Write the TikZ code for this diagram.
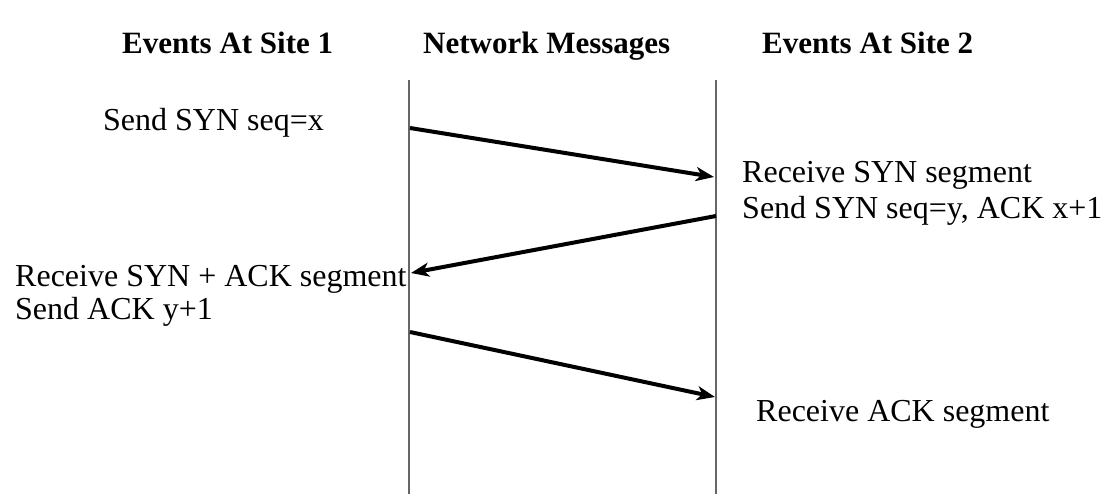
\documentclass[tikz,border=0pt]{standalone}
\usepackage{fontspec}
\setmainfont{Liberation Serif}
\usetikzlibrary{arrows.meta}
\tikzset{
  txt/.style={anchor=base west, inner sep=0pt, font=\fontsize{32}{35}\selectfont},
  head/.style={anchor=base west, inner sep=0pt, font=\fontsize{31}{34}\selectfont\bfseries},
  lifeline/.style={draw=black!60, line width=1.6pt},
  msg/.style={draw=black, line width=4pt, -{Stealth[length=18pt,width=14pt,inset=5pt]}}
}
\begin{document}
\begin{tikzpicture}[x=1pt,y=-1pt]
\useasboundingbox (0,0) rectangle (1105,494);
\fill[white] (0,0) rectangle (1105,494);
% headings
\node[head] (h1) at (122,54) {Events At Site 1};
\node[head] (h2) at (423,54) {Network Messages};
\node[head] (h3) at (762,54) {Events At Site 2};
% lifelines
\coordinate (l1t) at (409,80);
\coordinate (l1b) at (409,494);
\coordinate (l2t) at (716,80);
\coordinate (l2b) at (716,494);
\draw[lifeline] (l1t) -- (l1b);
\draw[lifeline] (l2t) -- (l2b);
% texts
\node[txt] (s1) at (103,131) {Send SYN seq=x};
\node[txt] (r1a) at (742,183) {Receive SYN segment};
\node[txt] (r1b) at (742,219) {Send SYN seq=y, ACK x+1};
\node[txt] (l2a) at (15,287) {Receive SYN + ACK segment};
\node[txt] (l2b) at (15,319) {Send ACK y+1};
\node[txt] (r3) at (756,421) {Receive ACK segment};
% messages
\coordinate (m1s) at (410,128);
\coordinate (m1e) at (714,177);
\coordinate (m2s) at (716,216);
\coordinate (m2e) at (411,273);
\coordinate (m3s) at (410,332);
\coordinate (m3e) at (715,397);
\draw[msg] (m1s) -- (m1e);
\draw[msg] (m2s) -- (m2e);
\draw[msg] (m3s) -- (m3e);
\end{tikzpicture}
\end{document}
